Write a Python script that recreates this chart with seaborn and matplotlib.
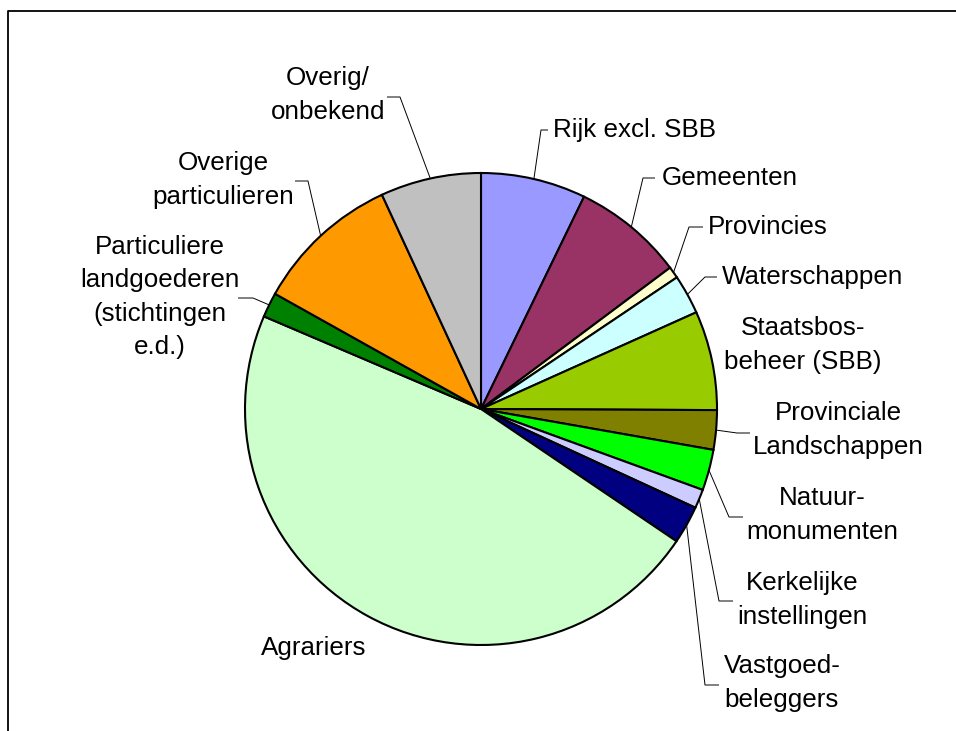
import matplotlib
matplotlib.use("Agg")
import numpy as np
import matplotlib.pyplot as plt
import seaborn as sns

# grondeigendom naar eigenaar (aandeel in %), met de klok mee vanaf boven
owners = [
    "Rijk excl. SBB", "Gemeenten", "Provincies", "Waterschappen",
    "Staatsbos-\nbeheer (SBB)", "Provinciale\nLandschappen", "Natuur-\nmonumenten",
    "Kerkelijke\ninstellingen", "Vastgoed-\nbeleggers", "Agrariers",
    "Particuliere\nlandgoederen\n(stichtingen\ne.d.)", "Overige\nparticulieren",
    "Overig/\nonbekend",
]
shares = [7.2, 7.6, 0.8, 2.7, 6.8, 2.7, 2.8, 1.3, 2.6, 47.0, 1.7, 10.0, 6.9]
colors = [
    "#9999FF", "#993366", "#FFFFCC", "#CCFFFF", "#99CC00", "#808000", "#00FF00",
    "#CCCCFF", "#000080", "#CCFFCC", "#008000", "#FF9900", "#C0C0C0",
]

# layout in pixels (origin top-left): text position, alignment, leader elbow
W, H = 956, 731
CX, CY, R = 481, 409, 236
layout = [
    ((553, 130), "left", (548, 541)),
    ((662, 178), "left", (655, 643)),
    ((708, 227), "left", (703, 689)),
    ((722, 277), "left", (717, 705)),
    ((803, 345), "center", None),
    ((838, 430), "center", (750, 737)),
    ((822, 515), "center", (743, 729)),
    ((802, 600), "center", (733, 719)),
    ((782, 683), "center", (719, 705)),
    ((314, 648), "center", None),
    ((160, 297), "center", (238, 253)),
    ((223, 180), "center", (295, 308)),
    ((328, 95), "center", (387, 400)),
]
leader_y = [130, 178, 227, 277, None, 433, 517, 601, 685, None, 298, 181, 97]

sns.set_theme(style="white")
plt.rcParams["font.family"] = ["Liberation Sans", "DejaVu Sans"]

fig = plt.figure(figsize=(W / 100, H / 100), dpi=100)
ax = fig.add_axes([0, 0, 1, 1])

wedges, _ = ax.pie(
    shares,
    colors=colors,
    startangle=90,
    counterclock=False,
    center=(CX, H - CY),
    radius=R,
    wedgeprops=dict(edgecolor="black", linewidth=1.5),
)
ax.set_xlim(0, W)
ax.set_ylim(0, H)
ax.set_aspect("equal")
ax.axis("off")

for name, w, (pos, ha, elbow), ly in zip(owners, wedges, layout, leader_y):
    ax.text(pos[0], H - pos[1], name, ha=ha, va="center", fontsize=18.7,
            linespacing=1.5, multialignment="center", color="black")
    if elbow is None:
        continue
    mid = np.deg2rad((w.theta1 + w.theta2) / 2)
    ex = CX + R * np.cos(mid)
    ey = (H - CY) + R * np.sin(mid)
    ax.plot([elbow[0], elbow[1], ex], [H - ly, H - ly, ey],
            color="black", lw=0.7, solid_capstyle="butt")

# chart area border (only left and top edges fall inside the picture)
ax.plot([8, 8, W + 5], [-5, H - 11, H - 11], color="black", lw=1.3, clip_on=False)

fig.savefig("out.png", dpi=100)
